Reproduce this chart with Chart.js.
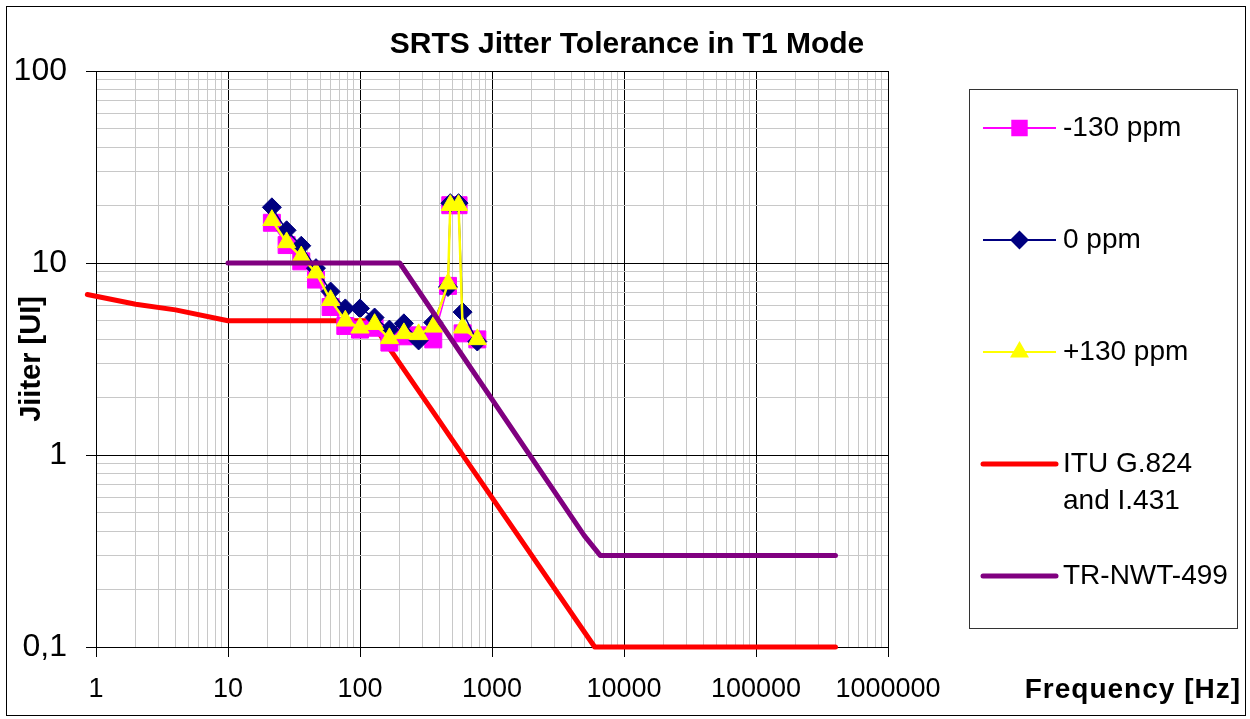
<!DOCTYPE html>
<html>
<head>
<meta charset="utf-8">
<title>SRTS Jitter Tolerance in T1 Mode</title>
<script src="https://cdn.jsdelivr.net/npm/chart.js@4.4.0/dist/chart.umd.min.js"></script>
<style>
  html, body { margin: 0; padding: 0; background: #fff; }
  #wrap { position: relative; width: 1250px; height: 719px; }
</style>
</head>
<body>
<div id="wrap"><canvas id="grafico"></canvas></div>
<script>
// measured sweep (Hz) and tolerated jitter (UI) per clock offset
const testFreqs = [21.5, 27.8, 35.9, 46.4, 59.9, 77.4, 100, 129, 167, 215, 278, 359, 464, 483, 558, 599, 774];
const jitterMinus130 = [16.2, 12.4, 10.2, 8.2, 5.9, 4.7, 4.5, 4.6, 3.85, 4.15, 4.2, 4.0, 7.6, 20, 20, 4.3, 4.0];
const jitterZero = [19.5, 14.8, 12.3, 9.4, 7.1, 5.8, 5.8, 5.2, 4.5, 4.85, 3.95, 4.9, 7.5, 20.5, 20.5, 5.55, 3.9];
const jitterPlus130 = [16.7, 12.8, 10.8, 8.9, 6.4, 5.0, 4.6, 4.8, 4.05, 4.3, 4.25, 4.65, 7.8, 20, 20, 4.6, 4.0];

// tolerance masks
const ituFreqs = [0.86, 2, 4, 10, 120, 400, 500, 1000, 6000, 400000];
const ituJitter = [6.85, 6.1, 5.7, 5, 5, 1.5, 1.2, 0.6, 0.1, 0.1];
const trFreqs = [10, 200, 5000, 6600, 400000];
const trJitter = [10, 10, 0.38, 0.3, 0.3];

// axis decades
const xDecades = [1, 10, 100, 1000, 10000, 100000, 1000000];
const yDecades = [0.1, 1, 10, 100];

const seriesNames = ['-130 ppm', '0 ppm', '+130 ppm', 'ITU G.824\nand I.431', 'TR-NWT-499'];
const chartTitle = 'SRTS Jitter Tolerance in T1 Mode';

const FONT = '"Liberation Sans", Arial, sans-serif';
Chart.defaults.font.family = FONT;
Chart.defaults.color = '#000';

function toPoints(xs, ys) {
  return xs.map((x, i) => ({ x: x, y: ys[i] }));
}

// decade ticks plus the 2..9 minor ones in between
function logTicks(decades) {
  const ticks = [];
  decades.forEach((d, i) => {
    ticks.push({ value: d, major: true });
    if (i < decades.length - 1) {
      for (let k = 2; k <= 9; k++) ticks.push({ value: d * k, major: false });
    }
  });
  return ticks;
}

const gridColor = (c) => (c.tick && c.tick.major ? '#000000' : '#c8c8c8');
const tickColor = (c) => (c.tick && c.tick.major ? '#000000' : 'rgba(0,0,0,0)');

const datasets = [
  {
    label: seriesNames[0],
    data: toPoints(testFreqs, jitterMinus130),
    borderColor: '#ff00ff',
    backgroundColor: '#ff00ff',
    borderWidth: 1.5,
    pointStyle: 'rect',
    pointRadius: 12,
    pointBorderWidth: 1,
    order: 3,
  },
  {
    label: seriesNames[1],
    data: toPoints(testFreqs, jitterZero),
    borderColor: '#000080',
    backgroundColor: '#000080',
    borderWidth: 1.5,
    pointStyle: 'rectRot',
    pointRadius: 9.5,
    pointBorderWidth: 1,
    order: 2,
  },
  {
    label: seriesNames[2],
    data: toPoints(testFreqs, jitterPlus130),
    borderColor: '#ffff00',
    backgroundColor: '#ffff00',
    borderWidth: 2.5,
    pointStyle: 'triangle',
    pointRadius: 10.5,
    pointBorderWidth: 1,
    order: 1,
  },
  {
    label: seriesNames[3],
    data: toPoints(ituFreqs, ituJitter),
    borderColor: '#ff0000',
    backgroundColor: '#ff0000',
    borderWidth: 5,
    borderCapStyle: 'round',
    borderJoinStyle: 'round',
    pointRadius: 0,
    clip: false,
    order: 4,
  },
  {
    label: seriesNames[4],
    data: toPoints(trFreqs, trJitter),
    borderColor: '#800080',
    backgroundColor: '#800080',
    borderWidth: 5,
    borderCapStyle: 'round',
    borderJoinStyle: 'round',
    pointRadius: 0,
    order: 0,
  },
];

// title, legend at the right, outer frame and the x axis caption
const sideLegend = {
  id: 'sideLegend',
  afterDraw(chart) {
    const ctx = chart.ctx;
    ctx.save();
    ctx.strokeStyle = '#000';
    ctx.lineWidth = 1;
    ctx.strokeRect(6.5, 6.5, 1239, 709);

    ctx.fillStyle = '#000';
    ctx.font = 'bold 30px ' + FONT;
    ctx.textAlign = 'center';
    ctx.textBaseline = 'middle';
    ctx.fillText(chartTitle, 627, 45);

    ctx.strokeStyle = '#333';
    ctx.strokeRect(969.5, 89.5, 268, 539);

    chart.data.datasets.forEach((ds, i) => {
      const y = 128 + i * 112;
      ctx.strokeStyle = ds.borderColor;
      ctx.lineWidth = ds.borderWidth > 3 ? 5 : 2;
      ctx.lineCap = ds.borderWidth > 3 ? 'round' : 'butt';
      ctx.beginPath();
      ctx.moveTo(983, y);
      ctx.lineTo(1056, y);
      ctx.stroke();
      if (ds.pointRadius > 0) {
        ctx.fillStyle = ds.backgroundColor;
        ctx.strokeStyle = ds.borderColor;
        Chart.helpers.drawPoint(ctx, {
          pointStyle: ds.pointStyle,
          radius: ds.pointRadius * 0.85,
          rotation: 0,
          borderWidth: 1,
        }, 1019.5, y);
      }
      ctx.fillStyle = '#000';
      ctx.font = '28px ' + FONT;
      ctx.textAlign = 'left';
      ctx.textBaseline = 'middle';
      ds.label.split('\n').forEach((line, k) => {
        ctx.fillText(line, 1063, y + k * 37);
      });
    });

    ctx.font = 'bold 28px ' + FONT;
    ctx.letterSpacing = '1px';
    ctx.textAlign = 'right';
    ctx.textBaseline = 'middle';
    ctx.fillText('Frequency [Hz]', 1241, 690);
    ctx.restore();
  },
};

const ctx = document.getElementById('grafico').getContext('2d');
const myChart = new Chart(ctx, {
  type: 'scatter',
  data: { datasets: datasets },
  plugins: [sideLegend],
  options: {
    responsive: true,
    maintainAspectRatio: false,
    animation: false,
    showLine: true,
    layout: { padding: { left: 0, right: 362, top: 71, bottom: 0 } },
    plugins: {
      legend: { display: false },
      tooltip: { enabled: false },
      title: { display: false },
    },
    scales: {
      x: {
        type: 'logarithmic',
        min: 1,
        max: 1000000,
        afterBuildTicks: (scale) => { scale.ticks = logTicks(xDecades); },
        afterFit: (scale) => { scale.height = 72; },
        grid: { color: gridColor, tickColor: tickColor, tickLength: 10, lineWidth: 1 },
        border: { color: '#000', width: 1 },
        ticks: {
          autoSkip: false,
          maxRotation: 0,
          minRotation: 0,
          padding: 16,
          color: '#000',
          font: { size: 27 },
          callback: (value, index, ticks) => (ticks[index].major ? String(value) : ''),
        },
      },
      y: {
        type: 'logarithmic',
        min: 0.1,
        max: 100,
        afterBuildTicks: (scale) => { scale.ticks = logTicks(yDecades); },
        afterFit: (scale) => { scale.width = 96; },
        grid: { color: gridColor, tickColor: tickColor, tickLength: 10, lineWidth: 1 },
        border: { color: '#000', width: 1 },
        title: {
          display: true,
          text: 'Jiiter [UI]',
          color: '#000',
          font: { size: 29, weight: 'bold' },
          padding: { top: 15, bottom: 0 },
        },
        ticks: {
          autoSkip: false,
          padding: 19,
          color: '#000',
          font: { size: 32 },
          callback: (value, index, ticks) => (ticks[index].major ? String(value).replace('.', ',') : ''),
        },
      },
    },
  },
});
</script>
</body>
</html>
